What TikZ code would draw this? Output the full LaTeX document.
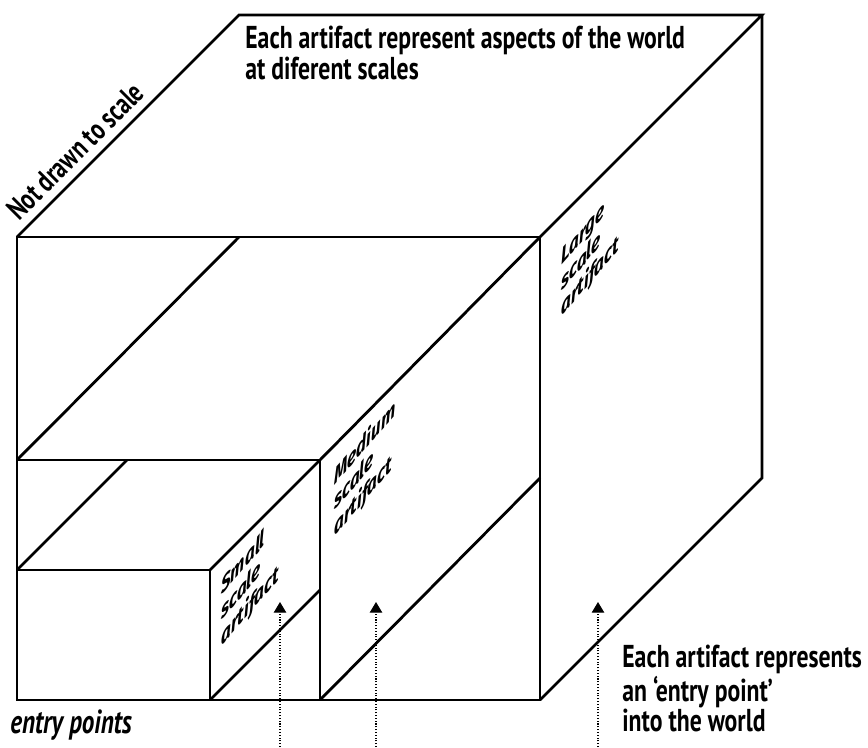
\documentclass[tikz,border=0pt]{standalone}
\usepackage{fontspec}
\setmainfont{PT Sans}[FakeStretch=0.75]
\newfontfamily\facefont{Fira Sans}[FakeStretch=0.75]
\usetikzlibrary{arrows.meta}

\tikzset{
    edge/.style={line width=1.6pt, line join=miter},
    entry/.style={densely dotted, line width=0.6pt, -{Triangle[width=7pt,length=6pt]}},
    facelabel/.style={font=\facefont\bfseries\itshape\fontsize{13}{14.5}\selectfont, align=left,
        anchor=north west, inner sep=0pt, yslant=1.15, transform shape},
    note/.style={font=\bfseries\fontsize{18}{16}\selectfont, align=left, inner sep=0pt}
}

\begin{document}
\begin{tikzpicture}[x=0.02cm, y=0.02cm]

        % Frame
        \useasboundingbox (0,0) rectangle (868,747);

        % Large cube
        \draw[edge] (17,47) rectangle (540,510);
        \draw[edge] (17,510) -- (239,732) -- (762,732) -- (540,510);
        \draw[edge] (762,732) -- (762,269) -- (540,47);

        % Medium cube
        \draw[edge] (17,287) -- (320,287) -- (320,47);
        \draw[edge] (17,287) -- (239,510);
        \draw[edge] (320,287) -- (540,510);
        \draw[edge] (540,269) -- (320,47);

        % Small cube
        \draw[edge] (17,177) -- (210,177) -- (210,47);
        \draw[edge] (17,177) -- (127,287);
        \draw[edge] (210,177) -- (320,287);
        \draw[edge] (320,157) -- (210,47);

        % Labels on the faces
        \node[facelabel] (large) at (561,497) {Large\\scale\\artifact};
        \node[facelabel] (medium) at (334,280) {Medium\\scale\\artifact};
        \node[facelabel] (small) at (221,169) {Small\\scale\\artifact};

        % Notes
        \node[note, anchor=north west] (world) at (245,721)
            {Each artifact represent aspects of the world\\at diferent scales};
        \node[note, anchor=base west, rotate=45, font=\bfseries\fontsize{17}{17}\selectfont]
            (noscale) at (19,525) {Not drawn to scale};
        \node[note, anchor=north west, font=\bfseries\fontsize{18}{17}\selectfont]
            (entrynote) at (622,102)
            {Each artifact represents\\an ‘entry point’\\into the world};
        \node[note, anchor=base west, font=\bfseries\itshape\fontsize{19}{19}\selectfont]
            (entries) at (10,14) {entry points};

        % Entry points
        \coordinate (s1) at (280,0);   \coordinate (t1) at (280,145);
        \coordinate (s2) at (376,0);   \coordinate (t2) at (376,145);
        \coordinate (s3) at (598,0);   \coordinate (t3) at (598,145);
        \draw[entry] (s1) -- (t1);
        \draw[entry] (s2) -- (t2);
        \draw[entry] (s3) -- (t3);

    \end{tikzpicture}
\end{document}
